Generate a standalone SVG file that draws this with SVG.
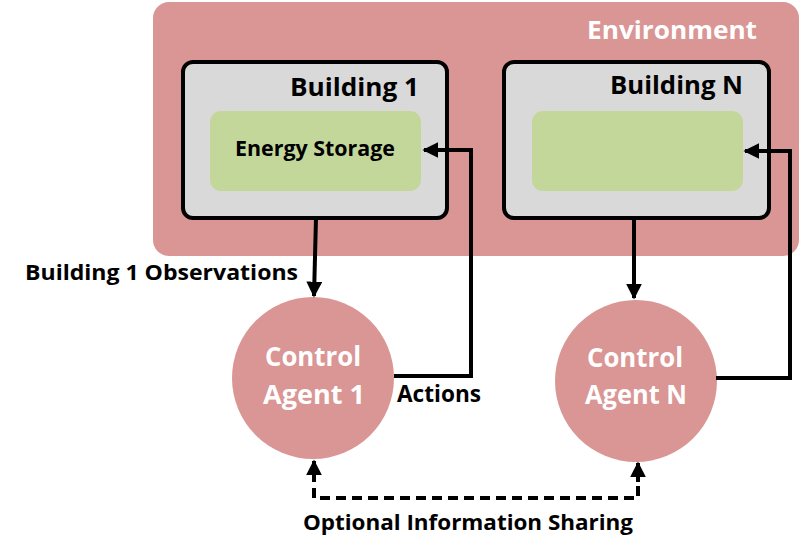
<svg xmlns="http://www.w3.org/2000/svg" width="800" height="556" viewBox="0 0 800 556">
<defs>
<style>
text{font-family:"Open Sans","Liberation Sans",sans-serif;font-weight:bold}
.bld{fill:#D9D9D9;stroke:#000;stroke-width:4}
.grn{fill:#C4D79B}
.agent{fill:#DA9694}
.w{fill:#fff}
.k{fill:#000}
.ln{fill:none;stroke:#000;stroke-width:4}
.dash{fill:none;stroke:#000;stroke-width:4;stroke-dasharray:10,6}
</style>
<marker id="ah" viewBox="0 0 10 10" refX="9" refY="5" markerWidth="4" markerHeight="4" orient="auto" markerUnits="strokeWidth">
<path d="M0,0 L10,5 L0,10 Z" fill="#000"/>
</marker>
</defs>
<g id="environment">
<rect x="153" y="2" width="646" height="254" rx="16" fill="#DA9694"/>
<text x="757" y="39" text-anchor="end" font-size="25" class="w" textLength="170" lengthAdjust="spacingAndGlyphs">Environment</text>
</g>
<g id="building1">
<rect class="bld" x="183" y="62" width="264" height="156" rx="10"/>
<text x="419" y="96" text-anchor="end" font-size="25" class="k" textLength="129" lengthAdjust="spacingAndGlyphs">Building 1</text>
</g>
<g id="storage1">
<rect class="grn" x="210" y="111" width="211" height="80" rx="11"/>
<text x="315" y="156" text-anchor="middle" font-size="21" class="k" textLength="160" lengthAdjust="spacingAndGlyphs">Energy Storage</text>
</g>
<g id="buildingN">
<rect class="bld" x="504" y="62" width="265" height="156" rx="10"/>
<text x="743" y="94" text-anchor="end" font-size="25" class="k" textLength="133" lengthAdjust="spacingAndGlyphs">Building N</text>
</g>
<g id="storageN">
<rect class="grn" x="532" y="111" width="211" height="80" rx="11"/>
</g>
<g id="agent1">
<circle class="agent" cx="313" cy="378" r="81"/>
<text x="313" y="366" text-anchor="middle" font-size="26" class="w" textLength="96" lengthAdjust="spacingAndGlyphs">Control</text>
<text x="314" y="404" text-anchor="middle" font-size="26" class="w" textLength="102" lengthAdjust="spacingAndGlyphs">Agent 1</text>
</g>
<g id="agentN">
<circle class="agent" cx="636" cy="381" r="81"/>
<text x="635" y="367" text-anchor="middle" font-size="26" class="w" textLength="96" lengthAdjust="spacingAndGlyphs">Control</text>
<text x="636" y="404" text-anchor="middle" font-size="26" class="w" textLength="102" lengthAdjust="spacingAndGlyphs">Agent N</text>
</g>
<g id="connectors">
<path class="ln" d="M316,218 L314,296" marker-end="url(#ah)"/>
<path class="ln" d="M394,376 L471,376 L471,150 L424,150" marker-end="url(#ah)"/>
<path class="ln" d="M634,218 L634,298" marker-end="url(#ah)"/>
<path class="ln" d="M716,378 L790,378 L790,151 L745,151" marker-end="url(#ah)"/>
<path class="dash" d="M314,472 L314,498 L638,498 L638,474"/>
<path class="ln" d="M314,480 L314,461" marker-end="url(#ah)"/>
<path class="ln" d="M638,482 L638,463" marker-end="url(#ah)"/>
<text x="25" y="280" font-size="22" class="k" textLength="273" lengthAdjust="spacingAndGlyphs">Building 1 Observations</text>
<text x="397" y="402" font-size="23" class="k" textLength="84" lengthAdjust="spacingAndGlyphs">Actions</text>
<text x="468" y="530" text-anchor="middle" font-size="22" class="k" textLength="330" lengthAdjust="spacingAndGlyphs">Optional Information Sharing</text>
</g>
</svg>
